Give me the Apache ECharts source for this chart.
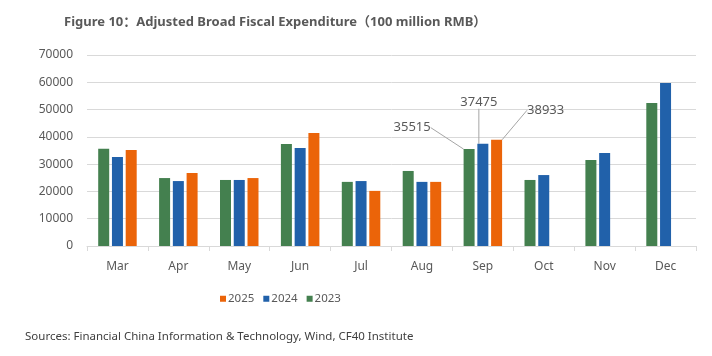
<!DOCTYPE html>
<html>
<head>
<meta charset="utf-8">
<script src="https://cdn.jsdelivr.net/npm/echarts@6/dist/echarts.min.js"></script>
<style>html,body{margin:0;padding:0;background:#fff}#c{width:712px;height:356px}</style>
</head>
<body>
<div id="c"></div>
<script>
var categories = ['Mar','Apr','May','Jun','Jul','Aug','Sep','Oct','Nov','Dec'];
var s2023 = [35600, 24900, 24200, 37400, 23500, 27500, 35515, 24200, 31500, 52400];
var s2024 = [32600, 23800, 24200, 35900, 23800, 23500, 37475, 26000, 34100, 59700];
var s2025 = [35200, 26750, 24900, 41400, 20200, 23500, 38933, null, null, null];
var yTicks = [0, 10000, 20000, 30000, 40000, 50000, 60000, 70000];
var labelled = 6; // Sep

var FONT = '"Noto Sans", "Noto Sans CJK SC", sans-serif';
var colors = {'2023':'#44804f','2024':'#2161aa','2025':'#eb6409'};
var offsets = [[-57,-10],[-4,-30],[49,-18]];

function mk(name, arr, idx){
  return {
    name: name, type: 'bar', barWidth: 11, barGap: '25%',
    itemStyle: {color: colors[name]},
    data: arr.map(function(v,i){
      if (i === labelled) {
        return {value: v, label: {show: true, position: 'top', color: '#595959', fontSize: 13, fontFamily: FONT},
                labelLine: {show: true, lineStyle: {color: '#a6a6a6', width: 1}}};
      }
      return v;
    }),
    labelLayout: function(p){
      if (p.dataIndex === labelled) return {dx: offsets[idx][0], dy: offsets[idx][1]};
      return {};
    },
    animation: false
  };
}

var chart = echarts.init(document.getElementById('c'));
chart.setOption({
  backgroundColor: '#fff',
  animation: false,
  title: [{
    text: 'Figure 10：Adjusted Broad Fiscal Expenditure（100 million RMB）',
    left: 59, top: 11,
    textStyle: {fontFamily: FONT, fontSize: 13, fontWeight: 'bold', color: '#595959'}
  },{
    text: 'Sources: Financial China Information & Technology, Wind, CF40 Institute',
    left: 20, top: 326,
    textStyle: {fontFamily: FONT, fontSize: 11.5, fontWeight: 'normal', color: '#404040'}
  }],
  legend: {
    data: ['2025','2024','2023'],
    left: 215, top: 288,
    icon: 'rect', itemWidth: 6, itemHeight: 6, itemGap: 9,
    textStyle: {fontFamily: FONT, fontSize: 11.5, color: '#595959', padding: [0,0,0,-3]}
  },
  grid: {left: 87, right: 16, top: 55, bottom: 110, containLabel: false},
  xAxis: {
    type: 'category', data: categories, boundaryGap: true,
    axisLine: {lineStyle: {color: '#d9d9d9'}},
    axisTick: {show: true, length: 5, lineStyle: {color: '#d9d9d9'}},
    axisLabel: {fontFamily: FONT, fontSize: 12, color: '#595959', margin: 15}
  },
  yAxis: {
    type: 'value', min: yTicks[0], max: yTicks[yTicks.length-1], interval: yTicks[1]-yTicks[0],
    axisLine: {show: false}, axisTick: {show: false},
    splitLine: {lineStyle: {color: '#d9d9d9'}},
    axisLabel: {fontFamily: FONT, fontSize: 12, color: '#595959', margin: 14, formatter: function(v){ return String(v); }}
  },
  series: [mk('2023', s2023, 0), mk('2024', s2024, 1), mk('2025', s2025, 2)]
});
</script>
</body>
</html>
